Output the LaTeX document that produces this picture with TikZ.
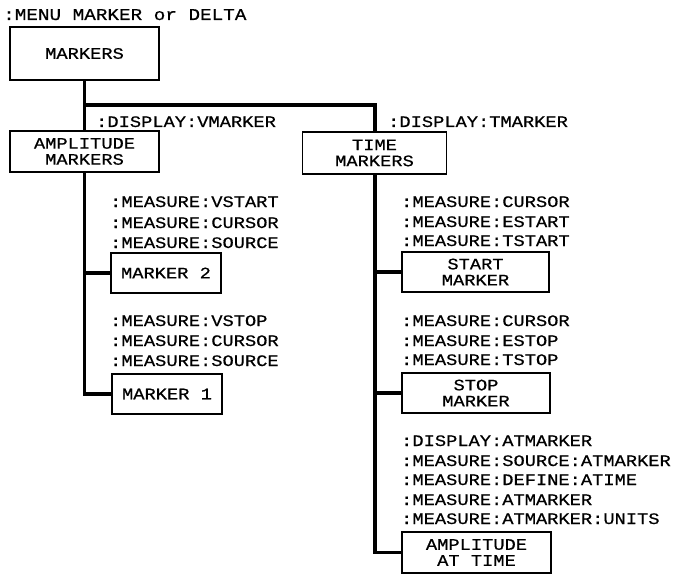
\documentclass[tikz,border=0pt]{standalone}
\usepackage{fontspec}
\setmonofont[FakeStretch=1.17,FakeBold=0.6]{Liberation Mono}
\begin{document}
\begin{tikzpicture}[x=1pt,y=-1pt,
  box/.style={draw=black,line width=1.8pt,inner sep=0pt,align=center,
    font=\ttfamily\fontsize{16}{16}\selectfont},
  lbl/.style={anchor=base west,inner sep=0pt,font=\ttfamily\fontsize{16}{16}\selectfont},
  conn/.style={draw=black,line width=3.8pt}]
\useasboundingbox (0,0) rectangle (677,575);
% boxes
\node[box,minimum width=149pt,minimum height=53pt] (markers) at (84.5,53.5) {MARKERS};
\node[box,minimum width=149pt,minimum height=41pt] (ampm) at (84.5,151.5) {AMPLITUDE\\MARKERS};
\node[box,minimum width=144pt,minimum height=42pt] (timem) at (374.5,153) {TIME\\MARKERS};
\node[box,minimum width=110pt,minimum height=40pt] (m2) at (166,273) {MARKER 2};
\node[box,minimum width=110pt,minimum height=40pt] (m1) at (167,394) {MARKER 1};
\node[box,minimum width=147pt,minimum height=40pt] (start) at (475.5,272) {START\\MARKER};
\node[box,minimum width=148pt,minimum height=40pt] (stop) at (476,393) {STOP\\MARKER};
\node[box,minimum width=149pt,minimum height=41pt] (aat) at (476.5,552.5) {AMPLITUDE\\AT TIME};
% junction
\coordinate (j1) at (375,105);
% connectors
\draw[conn] (markers.south) -- (ampm.north);
\draw[conn] (markers.south |- j1) -- (j1) -- (timem.north -| j1);
\draw[conn] (ampm.south) -- (ampm.south |- m1.west) -- (m1.west);
\draw[conn] (ampm.south |- m2.west) -- (m2.west);
\draw[conn] (timem.south -| j1) -- (j1 |- aat.west) -- (aat.west);
\draw[conn] (j1 |- start.west) -- (start.west);
\draw[conn] (j1 |- stop.west) -- (stop.west);
% labels
\node[lbl,font=\ttfamily\fontsize{16.5}{16}\selectfont] (t0) at (3,20) {:MENU MARKER or DELTA};
\node[lbl] (t1) at (96,127) {:DISPLAY:VMARKER};
\node[lbl] (t2) at (388,127) {:DISPLAY:TMARKER};
\node[lbl] (a1) at (110,207) {:MEASURE:VSTART};
\node[lbl] (a2) at (110,228) {:MEASURE:CURSOR};
\node[lbl] (a3) at (110,248) {:MEASURE:SOURCE};
\node[lbl] (b1) at (110,326) {:MEASURE:VSTOP};
\node[lbl] (b2) at (110,346) {:MEASURE:CURSOR};
\node[lbl] (b3) at (110,366) {:MEASURE:SOURCE};
\node[lbl] (c1) at (401,207) {:MEASURE:CURSOR};
\node[lbl] (c2) at (401,227) {:MEASURE:ESTART};
\node[lbl] (c3) at (401,246) {:MEASURE:TSTART};
\node[lbl] (d1) at (401,326) {:MEASURE:CURSOR};
\node[lbl] (d2) at (401,346) {:MEASURE:ESTOP};
\node[lbl] (d3) at (401,365) {:MEASURE:TSTOP};
\node[lbl] (e1) at (401,446) {:DISPLAY:ATMARKER};
\node[lbl] (e2) at (401,466) {:MEASURE:SOURCE:ATMARKER};
\node[lbl] (e3) at (401,485) {:MEASURE:DEFINE:ATIME};
\node[lbl] (e4) at (401,505) {:MEASURE:ATMARKER};
\node[lbl] (e5) at (401,524) {:MEASURE:ATMARKER:UNITS};
\end{tikzpicture}
\end{document}
